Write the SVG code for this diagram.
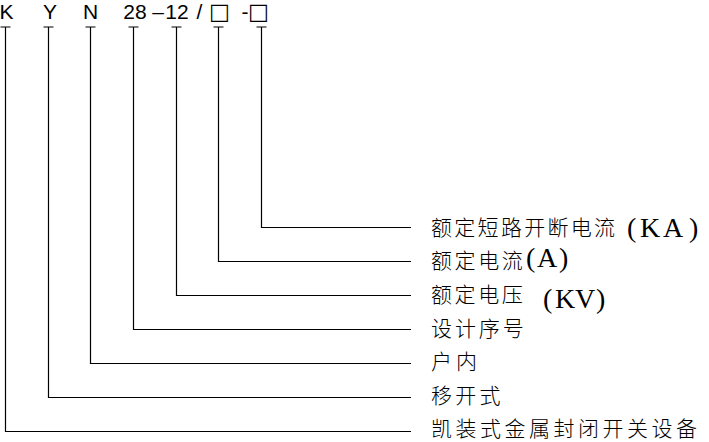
<svg xmlns="http://www.w3.org/2000/svg" width="709" height="442" viewBox="0 0 709 442">
<style>
.code{font-family:"Liberation Sans",Arial,sans-serif;font-size:21px;fill:#000;text-anchor:middle}
.box{font-family:"DejaVu Sans",sans-serif;font-size:22px;fill:#000;text-anchor:middle}
.cn{font-family:"Noto Sans CJK SC",sans-serif;font-size:21px;font-weight:300;fill:#000}
.lat{font-family:"Liberation Serif","Times New Roman",serif;font-size:28px;fill:#000}
.ln{fill:none;stroke:#000;stroke-width:1.2}
</style>
<rect width="709" height="442" fill="#fff"/>
<g id="code">
<text class="code" x="6.5" y="18.5">K</text>
<text class="code" x="50" y="18.5">Y</text>
<text class="code" x="90.5" y="18.5">N</text>
<text class="code" x="135" y="18.5">28</text>
<text class="code" x="158" y="18.5">–</text>
<text class="code" x="177" y="18.5">12</text>
<text class="code" x="199.5" y="18.5">/</text>
<text class="box" x="219.5" y="19">□</text>
<text class="code" x="245" y="18.5">-</text>
<text class="box" x="258.5" y="19">□</text>
</g>
<g id="connectors">
<path class="ln" d="M0.5 27H10.5M5.5 27V431.5H411"/>
<path class="ln" d="M43.5 27H53.5M48.5 27V397.5H411"/>
<path class="ln" d="M85.5 27H95.5M90.5 27V363.5H411"/>
<path class="ln" d="M128.5 27H138.5M133.5 27V329.5H411"/>
<path class="ln" d="M171.5 27H181.5M176.5 27V295.5H411"/>
<path class="ln" d="M213.5 27H223.5M218.5 27V261.5H411"/>
<path class="ln" d="M256.5 27H266.5M261.5 27V227.5H411"/>
</g>
<g id="label-short-circuit">
<text class="cn" x="431" y="234.5" letter-spacing="2.3">额定短路开断电流</text>
<text class="lat" y="236.5"><tspan x="627">(</tspan><tspan x="640">K</tspan><tspan x="663">A</tspan><tspan x="689">)</tspan></text>
</g>
<g id="label-current">
<text class="cn" x="431" y="268" letter-spacing="2.6">额定电流</text>
<text class="lat" y="267"><tspan x="526">(</tspan><tspan x="537">A</tspan><tspan x="559">)</tspan></text>
</g>
<g id="label-voltage">
<text class="cn" x="431" y="302" letter-spacing="2.6">额定电压</text>
<text class="lat" y="308"><tspan x="543">(</tspan><tspan x="555">K</tspan><tspan x="575">V</tspan><tspan x="596">)</tspan></text>
</g>
<g id="label-design">
<text class="cn" x="431" y="335.5" letter-spacing="2.9">设计序号</text>
</g>
<g id="label-indoor">
<text class="cn" x="431" y="368.5" letter-spacing="4">户内</text>
</g>
<g id="label-withdrawable">
<text class="cn" x="431" y="403" letter-spacing="3.2">移开式</text>
</g>
<g id="label-switchgear">
<text class="cn" x="431" y="436" letter-spacing="3.5">凯装式金属封闭开关设备</text>
</g>
</svg>
